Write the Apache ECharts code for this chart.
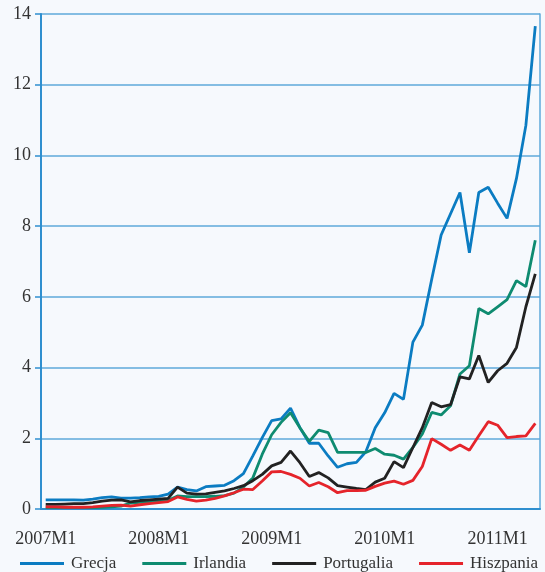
<!DOCTYPE html>
<html>
<head>
<meta charset="utf-8">
<script src="https://cdn.jsdelivr.net/npm/echarts@6/dist/echarts.min.js"></script>
<style>
  html, body { margin: 0; padding: 0; background: #f6f9fd; }
  #chart { width: 545px; height: 572px; }
</style>
</head>
<body>
<div id="chart"></div>
<script>
// miesiące 2007M1 .. 2011M5
const startYear = 2007;
const monthCount = 53;
const months = [];
for (let i = 0; i < monthCount; i++) {
  months.push((startYear + Math.floor(i / 12)) + 'M' + (i % 12 + 1));
}

const yTicks = [0, 2, 4, 6, 8, 10, 12, 14];

const grecja = [
  0.26, 0.26, 0.26, 0.26, 0.25, 0.28, 0.32, 0.34, 0.31, 0.31, 0.32, 0.34,
  0.36, 0.42, 0.62, 0.55, 0.51, 0.63, 0.65, 0.67, 0.8, 1.0, 1.5, 2.02,
  2.5, 2.55, 2.85, 2.3, 1.86, 1.86, 1.5, 1.18, 1.28, 1.32, 1.62, 2.3,
  2.72, 3.27, 3.1, 4.72, 5.2, 6.5, 7.75, 8.35, 8.95, 7.25, 8.95, 9.1,
  8.65, 8.22, 9.35, 10.85, 13.66
];
const irlandia = [
  0.04, 0.04, 0.04, 0.04, 0.04, 0.04, 0.05, 0.06, 0.08, 0.17, 0.19, 0.2,
  0.22, 0.25, 0.37, 0.35, 0.35, 0.35, 0.36, 0.38, 0.45, 0.62, 0.88, 1.55,
  2.1, 2.45, 2.72, 2.3, 1.91, 2.23, 2.16, 1.6, 1.6, 1.6, 1.6, 1.71,
  1.55, 1.52, 1.41, 1.74, 2.12, 2.73, 2.66, 2.92, 3.82, 4.05, 5.67, 5.52,
  5.72, 5.92, 6.46, 6.29, 7.6
];
const portugalia = [
  0.13, 0.13, 0.14, 0.15, 0.15, 0.18, 0.22, 0.25, 0.26, 0.2, 0.24, 0.26,
  0.28, 0.3, 0.62, 0.45, 0.42, 0.43, 0.47, 0.51, 0.58, 0.66, 0.8, 0.98,
  1.22, 1.32, 1.64, 1.31, 0.92, 1.03, 0.88, 0.66, 0.62, 0.58, 0.55, 0.76,
  0.87, 1.34, 1.17, 1.74, 2.3, 3.01, 2.89, 2.95, 3.74, 3.68, 4.34, 3.58,
  3.91, 4.12, 4.57, 5.72, 6.65
];
const hiszpania = [
  0.06, 0.06, 0.05, 0.05, 0.05, 0.06, 0.08, 0.1, 0.11, 0.08, 0.12, 0.15,
  0.18, 0.21, 0.34, 0.27, 0.22, 0.25, 0.3, 0.37, 0.46, 0.56, 0.55, 0.79,
  1.05, 1.06, 0.98, 0.87, 0.65, 0.75, 0.63, 0.46, 0.52, 0.52, 0.53, 0.64,
  0.73, 0.79, 0.7, 0.81, 1.2, 1.99, 1.83, 1.66, 1.81, 1.66, 2.07, 2.47,
  2.37, 2.02, 2.05, 2.07, 2.42
];

const seriesNames = ['Grecja', 'Irlandia', 'Portugalia', 'Hiszpania'];
const seriesData = [grecja, irlandia, portugalia, hiszpania];
const colors = ['#0b7cc2', '#0e8b70', '#222222', '#e5242b'];

const axisBlue = '#2f8fcf';
const gridBlue = '#5ea9da';
const font = '"Liberation Serif", "Times New Roman", serif';

const chart = echarts.init(document.getElementById('chart'));

const option = {
  backgroundColor: '#f6f9fd',
  animation: false,
  grid: { left: 41, right: 5, top: 14, bottom: 63 },
  legend: {
    left: 20,
    top: 555,
    width: 525,
    padding: 0,
    itemWidth: 44,
    itemHeight: 3,
    itemGap: 26,
    icon: 'rect',
    textStyle: { fontFamily: font, fontSize: 17, color: '#333', padding: [0, 0, 0, 2] },
    data: seriesNames
  },
  xAxis: [
    {
      type: 'category',
      data: months,
      boundaryGap: true,
      axisLine: { lineStyle: { color: axisBlue, width: 2 } },
      axisTick: { interval: 0, length: 7, lineStyle: { color: axisBlue, width: 1.5 } },
      axisLabel: {
        interval: 11,
        margin: 21,
        fontFamily: font,
        fontSize: 18,
        color: '#333'
      },
      splitLine: { show: false }
    },
    {
      type: 'category',
      data: months,
      position: 'bottom',
      boundaryGap: true,
      axisLine: { show: false },
      axisTick: { interval: 11, length: 11, lineStyle: { color: axisBlue, width: 1.5 } },
      axisLabel: { show: false },
      splitLine: { show: false }
    }
  ],
  yAxis: [
    {
      type: 'value',
      min: yTicks[0],
      max: yTicks[yTicks.length - 1],
      interval: 2,
      axisLine: { show: true, lineStyle: { color: axisBlue, width: 2 } },
      axisTick: { show: true, length: 6, lineStyle: { color: axisBlue, width: 1.5 } },
      axisLabel: { margin: 10, fontFamily: font, fontSize: 18, color: '#333' },
      splitLine: { lineStyle: { color: gridBlue, width: 1.5 } }
    },
    {
      type: 'value',
      position: 'right',
      min: yTicks[0],
      max: yTicks[yTicks.length - 1],
      interval: 2,
      axisLine: { show: true, lineStyle: { color: gridBlue, width: 1.5 } },
      axisTick: { show: false },
      axisLabel: { show: false },
      splitLine: { show: false }
    }
  ],
  series: seriesNames.map((name, k) => ({
    name: name,
    type: 'line',
    data: seriesData[k],
    showSymbol: false,
    symbol: 'none',
    lineStyle: { color: colors[k], width: 2.8 },
    itemStyle: { color: colors[k] }
  }))
};

chart.setOption(option);
</script>
</body>
</html>
